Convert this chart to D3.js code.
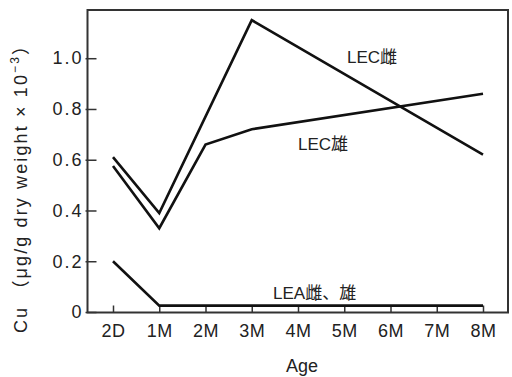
<!DOCTYPE html>
<html><head><meta charset="utf-8">
<script src="https://cdn.jsdelivr.net/npm/d3@7"></script>
<style>
body{margin:0;background:#fff;}
text{font-family:"Liberation Sans","Noto Sans CJK JP",sans-serif;fill:#222;}
</style></head>
<body><svg id="c" width="512" height="377"></svg>
<script>
const categories = ["2D","1M","2M","3M","4M","5M","6M","7M","8M"];
const lecFemale = [0.61, 0.39, null, 1.15, null, null, null, null, 0.62];
const lecMale   = [0.575, 0.33, 0.66, 0.72, null, null, null, null, 0.86];
const leaBoth   = [0.20, 0.025, 0.025, 0.025, 0.025, 0.025, 0.025, 0.025, 0.025];
const yTicks = [0, 0.2, 0.4, 0.6, 0.8, 1.0];
const yTickLabels = ["0", "0.2", "0.4", "0.6", "0.8", "1.0"];
const seriesLabels = ["LEC雌", "LEC雄", "LEA雌、雄"];

const svg = d3.select("#c");
const L = 87.5, R = 508, T = 10, B = 312.5;
const x = d3.scalePoint().domain(categories).range([113, 483]).padding(0);
const y = d3.scaleLinear().domain([0, 1.19]).range([312, 10]);
const ink = "#222";

// frame
svg.append("rect").attr("x", L).attr("y", T).attr("width", R - L).attr("height", B - T)
  .attr("fill", "none").attr("stroke", "#333").attr("stroke-width", 2);

// x axis
const xa = svg.append("g").attr("transform", `translate(0,${B})`)
  .call(d3.axisBottom(x).tickSizeInner(-7).tickSizeOuter(0).tickPadding(12));
xa.select(".domain").remove();
xa.selectAll("line").attr("stroke", "#333").attr("stroke-width", 1.5);
xa.selectAll("text").attr("font-size", 18).attr("fill", ink).attr("dy", "0.72em")
  .attr("letter-spacing", 0.5).style("font-family", "Liberation Sans, sans-serif");

// y axis
const ya = svg.append("g").attr("transform", `translate(${L},0)`)
  .call(d3.axisLeft(y).tickValues(yTicks).tickFormat((d, i) => yTickLabels[i]).tickSizeInner(-9).tickSizeOuter(0).tickPadding(5));
ya.select(".domain").remove();
ya.selectAll("line").attr("stroke", "#333").attr("stroke-width", 1.5).attr("x1", -2);
ya.selectAll("text").attr("font-size", 18).attr("fill", ink).attr("x", -4)
  .attr("letter-spacing", 2).style("font-family", "Liberation Sans, sans-serif");

// lines
const line = d3.line().x(d => x(d.c)).y(d => y(d.v));
function pts(arr){ return categories.map((c, i) => ({c, v: arr[i]})).filter(d => d.v != null); }
[lecFemale, lecMale, leaBoth].forEach(arr => {
  svg.append("path").datum(pts(arr)).attr("d", line)
    .attr("fill", "none").attr("stroke", "#111").attr("stroke-width", 2.6)
    .attr("stroke-linejoin", "miter");
});

// series labels
svg.append("text").attr("x", 347).attr("y", 63).attr("font-size", 17).text(seriesLabels[0]);
svg.append("text").attr("x", 298).attr("y", 150).attr("font-size", 17).text(seriesLabels[1]);
svg.append("text").attr("x", 273).attr("y", 299).attr("font-size", 17).text(seriesLabels[2]);

// axis titles
svg.append("text").attr("x", 302).attr("y", 372).attr("text-anchor", "middle")
  .attr("font-size", 18).text("Age");
const yl = svg.append("text").attr("transform", "translate(27,185) rotate(-90)")
  .attr("text-anchor", "middle").attr("font-size", 18)
  .attr("textLength", 296).attr("lengthAdjust", "spacing");
yl.append("tspan").text("Cu （μg/g dry weight × 10");
yl.append("tspan").attr("font-size", 12).attr("dy", -8).text("−3");
yl.append("tspan").attr("dy", 8).text("）");
</script></body></html>
